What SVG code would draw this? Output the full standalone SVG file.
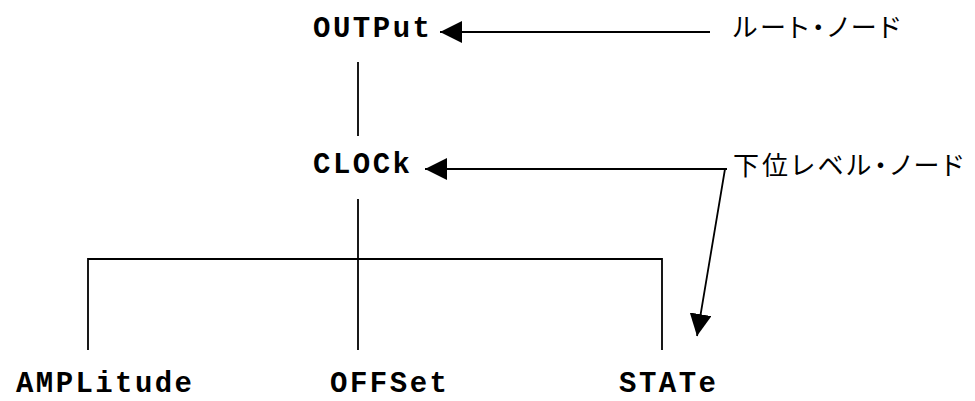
<svg xmlns="http://www.w3.org/2000/svg" width="975" height="401" viewBox="0 0 975 401">
  <style>
    .cmd { font-family: "Courier New", "Liberation Mono", monospace; font-weight: bold; font-size: 29px; fill: #000; }
    .note { font-family: "Noto Sans CJK JP", "Noto Sans", sans-serif; font-size: 26px; fill: #000; font-feature-settings: "palt"; }
    .wire { fill: none; stroke: #000; stroke-width: 1.8; }
    .ptr { fill: none; stroke: #000; stroke-width: 1.8; marker-end: url(#head); }
  </style>
  <defs>
    <marker id="head" viewBox="0 0 22 22" refX="22" refY="11" markerWidth="22" markerHeight="22" markerUnits="userSpaceOnUse" orient="auto">
      <path d="M0,0 L22,11 L0,22 Z" fill="#000"/>
    </marker>
  </defs>

  <rect width="975" height="401" fill="#fff"/>

  <!-- tree branches and pointer arrows -->
  <g id="connectors">
    <line class="wire" x1="358" y1="62" x2="358" y2="136"/>
    <line class="wire" x1="358" y1="199" x2="358" y2="350"/>
    <polyline class="wire" points="88,350 88,259 662,259 662,350"/>
    <line class="ptr" x1="710" y1="32" x2="440" y2="32"/>
    <polyline class="ptr" points="727,169 725,169 697,336"/>
    <line class="ptr" x1="725" y1="169" x2="425" y2="169"/>
  </g>

  <g id="node-output">
    <text class="cmd" x="313" y="37" textLength="117" lengthAdjust="spacing">OUTPut</text>
  </g>
  <g id="node-clock">
    <text class="cmd" x="313" y="173" textLength="97" lengthAdjust="spacing">CLOCk</text>
  </g>
  <g id="node-amplitude">
    <text class="cmd" x="16" y="392" textLength="176" lengthAdjust="spacing">AMPLitude</text>
  </g>
  <g id="node-offset">
    <text class="cmd" x="330" y="392" textLength="117" lengthAdjust="spacing">OFFSet</text>
  </g>
  <g id="node-state">
    <text class="cmd" x="619" y="392" textLength="97" lengthAdjust="spacing">STATe</text>
  </g>

  <g id="label-root">
    <text class="note" x="733" y="37" textLength="167" lengthAdjust="spacing">ルート・ノード</text>
  </g>
  <g id="label-sub">
    <text class="note" x="733" y="175" textLength="230" lengthAdjust="spacing">下位レベル・ノード</text>
  </g>
</svg>
